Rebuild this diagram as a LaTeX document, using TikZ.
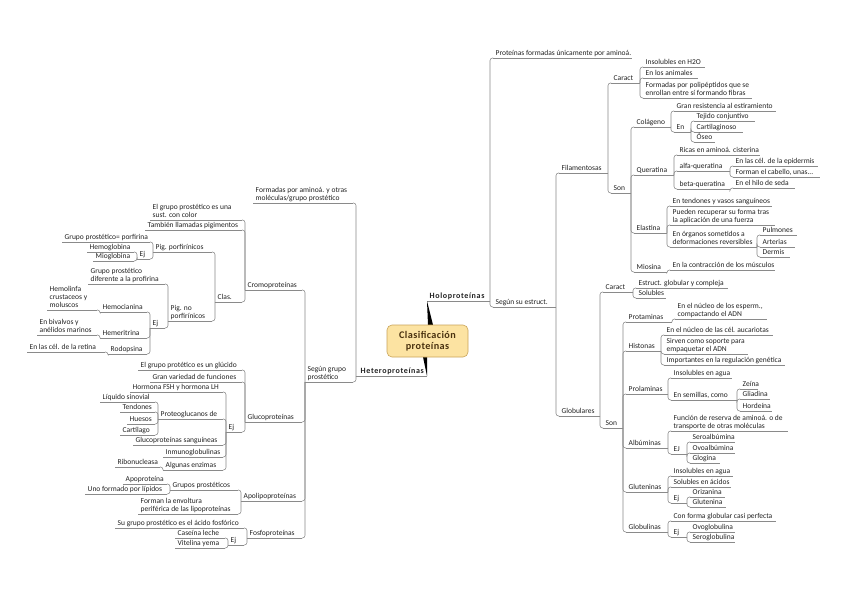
\documentclass[tikz,border=0pt]{standalone}
\usepackage{fontspec}
\setmainfont{Carlito}
\definecolor{linec}{HTML}{8A8A8A}
\definecolor{txtc}{HTML}{222222}
\definecolor{cfill}{HTML}{FCE3A2}
\definecolor{cdraw}{HTML}{C9A45A}
\definecolor{ctext}{HTML}{4A3210}
\newcommand{\tN}[5]{%
  \coordinate (#1-s) at (#2,#4);
  \coordinate (#1-e) at (#3,#4);
  \draw[uline] (#1-s) -- (#1-e);
  \node[txt,anchor=south west] (#1) at ([xshift=2.5pt]#1-s) {#5};}
\newcommand{\cR}[2]{\draw[conn] (#1-e) |- (#2-s);}
\newcommand{\cL}[2]{\draw[conn] (#1-s) |- (#2-e);}
\newcommand{\bigb}{\fontsize{8}{9}\selectfont\bfseries\addfontfeature{LetterSpace=8}}
\begin{document}
\begin{tikzpicture}[x=1pt,y=-1pt,
  uline/.style={draw=linec,line width=0.55pt},
  conn/.style={draw=linec,line width=0.55pt,rounded corners=2.5pt},
  txt/.style={font=\fontsize{7.5}{8.2}\selectfont,text=txtc,inner xsep=0pt,inner ysep=0.9pt,align=left,text depth=1.5pt},
  centre/.style={draw=cdraw,fill=cfill,line width=0.6pt,rounded corners=5pt,minimum width=81pt,minimum height=32pt,align=center,font=\fontsize{10.2}{11.5}\selectfont\bfseries\addfontfeature{LetterSpace=4},text=ctext}]
\useasboundingbox[fill=white] (0,0) rectangle (848,599);
% ---------------- right side
\tN{holo}{427}{490}{301}{\bigb Holoproteínas}
\tN{pfu}{493}{632}{58}{Proteínas formadas únicamente por aminoá.}
\tN{sse}{493}{556}{307}{Según su estruct.}
\tN{fil}{559}{608}{173}{Filamentosas}
\tN{fca}{611}{640}{83}{Caract}
\tN{ins}{643}{705}{67}{Insolubles en H2O}
\tN{ela}{643}{698}{78}{En los animales}
\tN{fpp}{643}{752}{98}{Formadas por polipéptidos que se\\enrollan entre sí formando fibras}
\tN{fson}{611}{631}{193}{Son}
\tN{col}{634}{671}{127}{Colágeno}
\tN{gre}{674}{776}{111}{Gran resistencia al estiramiento}
\tN{cen}{674}{691}{132}{En}
\tN{tej}{694}{755}{121}{Tejido conjuntivo}
\tN{car}{694}{743}{132}{Cartilaginoso}
\tN{ose}{694}{715}{142}{Óseo}
\tN{que}{634}{674}{175}{Queratina}
\tN{ric}{677}{760}{155}{Ricas en aminoá. cisterina}
\tN{alf}{677}{730}{171}{alfa-queratina}
\tN{epi}{733}{818}{166}{En las cél. de la epidermis}
\tN{cab}{733}{820}{177}{Forman el cabello, unas...}
\tN{bet}{677}{730}{189}{beta-queratina}
\tN{hil}{733}{795}{188}{En el hilo de seda}
\tN{elas}{634}{667}{233}{Elastina}
\tN{ten}{670}{772}{206}{En tendones y vasos sanguíneos}
\tN{pue}{670}{775}{225}{Pueden recuperar su forma tras\\la aplicación de una fuerza}
\tN{org}{670}{757}{247}{En órganos sometidos a\\deformaciones reversibles}
\tN{pul}{760}{797}{235}{Pulmones}
\tN{art}{760}{795}{247}{Arterias}
\tN{der}{760}{790}{257}{Dermis}
\tN{mio}{634}{667}{272}{Miosina}
\tN{con}{670}{775}{270}{En la contracción de los músculos}
\tN{glo}{559}{600}{416}{Globulares}
\tN{gca}{603}{633}{292}{Caract}
\tN{est}{636}{728}{288}{Estruct. globular y compleja}
\tN{sol}{636}{666}{298}{Solubles}
\tN{gson}{603}{623}{428}{Son}
\tN{prot}{626}{672}{322}{Protaminas}
\tN{nes}{675}{767}{319}{En el núcleo de los esperm.,\\compactando el ADN}
\tN{his}{626}{661}{351}{Histonas}
\tN{nuc}{664}{773}{335}{En el núcleo de las cél. aucariotas}
\tN{sir}{664}{748}{354}{Sirven como soporte para\\empaquetar el ADN}
\tN{imp}{664}{785}{365}{Importantes en la regulación genética}
\tN{prol}{626}{668}{394}{Prolaminas}
\tN{ina}{671}{732}{378}{Insolubles en agua}
\tN{sem}{671}{737}{400}{En semillas, como}
\tN{zei}{740}{758}{389}{Zeína}
\tN{gli}{740}{770}{399}{Gliadina}
\tN{hor}{740}{772}{411}{Hordeína}
\tN{alb}{626}{668}{448}{Albúminas}
\tN{fun}{671}{788}{431}{Función de reserva de aminoá. o de\\transporte de otras moléculas}
\tN{aej}{671}{687}{454}{EJ}
\tN{sera}{690}{735}{442}{Seroalbúmina}
\tN{ovoa}{690}{735}{453}{Ovoalbúmina}
\tN{glog}{690}{720}{463}{Glogina}
\tN{glu}{626}{668}{492}{Gluteninas}
\tN{ina2}{671}{733}{476}{Insolubles en agua}
\tN{sac}{671}{731}{487}{Solubles en ácidos}
\tN{gej}{671}{687}{503}{Ej}
\tN{ori}{690}{725}{497}{Orizanina}
\tN{glut}{690}{726}{507}{Glutenina}
\tN{glb}{626}{668}{532}{Globulinas}
\tN{cff}{671}{776}{521}{Con forma globular casi perfecta}
\tN{bej}{671}{687}{537}{Ej}
\tN{ovog}{690}{735}{532}{Ovoglobulina}
\tN{serg}{690}{735}{542}{Seroglobulina}
% ---------------- left side
\tN{het}{356}{427}{376}{\bigb\hspace*{2pt}Heteroproteínas}
\tN{fam}{253}{353}{203}{Formadas por aminoá. y otras\\moléculas/grupo prostético}
\tN{sgp}{305}{353}{382}{Según grupo\\prostético}
\tN{cro}{245}{302}{290}{Cromoproteínas}
\tN{gpc}{150}{242}{220}{El grupo prostético es una\\sust. con color}
\tN{tam}{145}{242}{230}{También llamadas pigimentos}
\tN{cla}{215}{242}{302}{Clas.}
\tN{ppo}{153}{212}{252}{Pig. porfirínicos}
\tN{gpp}{62}{150}{242}{Grupo prostético= porfirina}
\tN{pej}{137}{150}{259}{Ej}
\tN{hgl}{87}{134}{252}{Hemoglobina}
\tN{mgl}{93}{134}{261}{Mioglobina}
\tN{pnp}{168}{212}{321}{Pig. no\\porfirínicos}
\tN{gpd}{88}{165}{284}{Grupo prostético\\diferente a la profirina}
\tN{nej}{150}{165}{328}{Ej}
\tN{hcy}{100}{147}{312}{Hemocianina}
\tN{hly}{47}{97}{310}{Hemolinfa\\crustaceos y\\moluscos}
\tN{hem}{100}{147}{338}{Hemeritrina}
\tN{biv}{37}{97}{335}{En bivalvos y\\anélidos marinos}
\tN{rod}{108}{147}{354}{Rodopsina}
\tN{ret}{27}{105}{352}{En las cél. de la retina}
\tN{gluc}{245}{302}{422}{Glucoproteínas}
\tN{egg}{138}{242}{370}{El grupo protético es un glúcido}
\tN{gvf}{150}{242}{382}{Gran variedad de funciones}
\tN{uej}{226}{242}{432}{Ej}
\tN{fsh}{130}{223}{392}{Hormona FSH y hormona LH}
\tN{pgd}{158}{223}{419}{Proteoglucanos de}
\tN{liq}{100}{155}{402}{Líquido sinovial}
\tN{tend}{120}{155}{412}{Tendones}
\tN{hue}{127}{155}{424}{Huesos}
\tN{cart}{120}{155}{435}{Cartílago}
\tN{gsa}{133}{223}{445}{Glucoproteínas sanguíneas}
\tN{inm}{163}{223}{457}{Inmunoglobulinas}
\tN{alg}{163}{223}{470}{Algunas enzimas}
\tN{rib}{115}{160}{467}{Ribonucleasa}
\tN{apo}{241}{302}{501}{Apolipoproteínas}
\tN{gps}{170}{238}{490}{Grupos prostéticos}
\tN{app}{123}{167}{484}{Apoproteína}
\tN{ufl}{85}{167}{494}{Uno formado por lípidos}
\tN{fle}{138}{238}{514}{Forman la envoltura\\periférica de las lipoproteínas}
\tN{fos}{247}{302}{538}{Fosfoproteínas}
\tN{sgf}{115}{244}{528}{Su grupo prostético es el ácido fosfórico}
\tN{fej}{228}{244}{545}{Ej}
\tN{cas}{175}{225}{538}{Caseína leche}
\tN{vit}{175}{225}{548}{Vitelina yema}
% ---------------- connectors right
\cR{holo}{pfu}\cR{holo}{sse}
\cR{sse}{fil}\cR{sse}{glo}
\cR{fil}{fca}\cR{fil}{fson}
\cR{fca}{ins}\cR{fca}{ela}\cR{fca}{fpp}
\cR{fson}{col}\cR{fson}{que}\cR{fson}{elas}\cR{fson}{mio}
\cR{col}{gre}\cR{col}{cen}
\cR{cen}{tej}\cR{cen}{car}\cR{cen}{ose}
\cR{que}{ric}\cR{que}{alf}\cR{que}{bet}
\cR{alf}{epi}\cR{alf}{cab}\cR{bet}{hil}
\cR{elas}{ten}\cR{elas}{pue}\cR{elas}{org}
\cR{org}{pul}\cR{org}{art}\cR{org}{der}
\cR{mio}{con}
\cR{glo}{gca}\cR{glo}{gson}
\cR{gca}{est}\cR{gca}{sol}
\cR{gson}{prot}\cR{gson}{his}\cR{gson}{prol}\cR{gson}{alb}\cR{gson}{glu}\cR{gson}{glb}
\cR{prot}{nes}
\cR{his}{nuc}\cR{his}{sir}\cR{his}{imp}
\cR{prol}{ina}\cR{prol}{sem}
\cR{sem}{zei}\cR{sem}{gli}\cR{sem}{hor}
\cR{alb}{fun}\cR{alb}{aej}
\cR{aej}{sera}\cR{aej}{ovoa}\cR{aej}{glog}
\cR{glu}{ina2}\cR{glu}{sac}\cR{glu}{gej}
\cR{gej}{ori}\cR{gej}{glut}
\cR{glb}{cff}\cR{glb}{bej}
\cR{bej}{ovog}\cR{bej}{serg}
% ---------------- connectors left
\cL{het}{fam}\cL{het}{sgp}
\cL{sgp}{cro}\cL{sgp}{gluc}\cL{sgp}{apo}\cL{sgp}{fos}
\cL{cro}{gpc}\cL{cro}{tam}\cL{cro}{cla}
\cL{cla}{ppo}\cL{cla}{pnp}
\cL{ppo}{gpp}\cL{ppo}{pej}
\cL{pej}{hgl}\cL{pej}{mgl}
\cL{pnp}{gpd}\cL{pnp}{nej}
\cL{nej}{hcy}\cL{nej}{hem}\cL{nej}{rod}
\cL{hcy}{hly}\cL{hem}{biv}\cL{rod}{ret}
\cL{gluc}{egg}\cL{gluc}{gvf}\cL{gluc}{uej}
\cL{uej}{fsh}\cL{uej}{pgd}\cL{uej}{gsa}\cL{uej}{inm}\cL{uej}{alg}
\cL{pgd}{liq}\cL{pgd}{tend}\cL{pgd}{hue}\cL{pgd}{cart}
\cL{alg}{rib}
\cL{apo}{gps}\cL{apo}{fle}
\cL{gps}{app}\cL{gps}{ufl}
\cL{fos}{sgf}\cL{fos}{fej}
\cL{fej}{cas}\cL{fej}{vit}
% ---------------- centre
\coordinate (cpos) at (427.5,341);
\fill[black] (holo-s) -- ([shift={(0.5,-16)}]cpos) -- ([shift={(5.5,-16)}]cpos) -- cycle;
\fill[black] (het-e) -- ([shift={(-4.5,16)}]cpos) -- ([shift={(-0.5,16)}]cpos) -- cycle;
\node[centre] (c) at (cpos) {Clasificación\\proteínas};
\end{tikzpicture}
\end{document}
